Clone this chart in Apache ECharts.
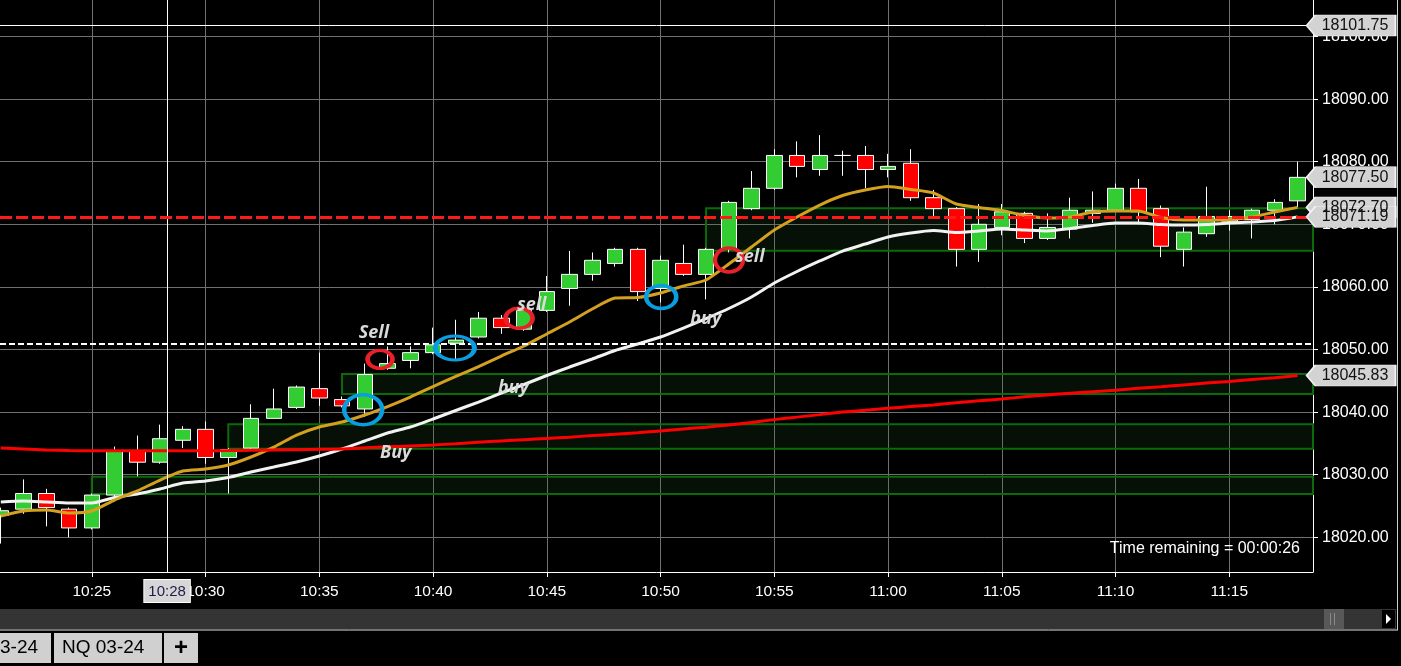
<!DOCTYPE html>
<html>
<head>
<meta charset="utf-8">
<script src="https://cdn.jsdelivr.net/npm/echarts@6/dist/echarts.min.js"></script>
<style>
html, body { margin: 0; padding: 0; background: #000; }
#chart { width: 1401px; height: 666px; }
</style>
</head>
<body>
<div id="chart"></div>
<script>
// one-minute bars, NQ 03-24
var times = ['10:21','10:22','10:23','10:24','10:25','10:26','10:27','10:28','10:29','10:30',
    '10:31','10:32','10:33','10:34','10:35','10:36','10:37','10:38','10:39','10:40',
    '10:41','10:42','10:43','10:44','10:45','10:46','10:47','10:48','10:49','10:50',
    '10:51','10:52','10:53','10:54','10:55','10:56','10:57','10:58','10:59','11:00',
    '11:01','11:02','11:03','11:04','11:05','11:06','11:07','11:08','11:09','11:10',
    '11:11','11:12','11:13','11:14','11:15','11:16','11:17','11:18']
var opens = [18023.5, 18024.5, 18027, 18024.5, 18021.5, 18026.75, 18033.75, 18032, 18035.5, 18037.25,
    18032.75, 18034.25, 18039, 18040.75, 18043.75, 18042, 18040.5, 18047, 18048.25, 18049.5,
    18051, 18052, 18055, 18053.25, 18056.25, 18059.75, 18062, 18063.75, 18066, 18059.75,
    18063.75, 18062, 18066, 18072.5, 18075.75, 18081, 18078.75, 18081, 18081, 18078.75,
    18079.75, 18074.25, 18072.5, 18066, 18069.5, 18071.75, 18067.75, 18069.25, 18071.75, 18072.25,
    18075.75, 18072.5, 18066, 18068.5, 18070.5, 18070.75, 18072.25, 18073.75]
var closes = [18024.25, 18027, 18024.75, 18021.5, 18026.75, 18033.75, 18032, 18035.75, 18037.25, 18032.75,
    18034, 18039, 18040.5, 18044, 18042.25, 18041, 18046, 18047.75, 18049.5, 18050.75,
    18051.5, 18055, 18053.5, 18056.25, 18059.25, 18062, 18064.25, 18066, 18059.25, 18064.25,
    18062, 18066, 18073.5, 18075.75, 18081, 18079.25, 18081, 18081, 18078.75, 18079.25,
    18074.25, 18072.5, 18066, 18070, 18072, 18067.75, 18069.5, 18072.25, 18072.25, 18075.75,
    18072, 18066.5, 18068.75, 18071.25, 18071.25, 18072.25, 18073.5, 18077.5]
var lows = [18019, 18023.75, 18021.75, 18020, 18021.25, 18026.5, 18029.75, 18031.75, 18034.25, 18031.75,
    18027, 18034, 18039, 18040.5, 18041, 18040.75, 18039.25, 18046.75, 18047, 18049.25,
    18048.25, 18051.75, 18052.5, 18053, 18056, 18057, 18061, 18063.25, 18057.75, 18057.5,
    18061.75, 18058, 18065.5, 18072.25, 18075.5, 18077.5, 18077.75, 18077.75, 18075.75, 18077.5,
    18073.75, 18071.25, 18063.25, 18064, 18068.25, 18067, 18067.5, 18067.75, 18070.25, 18072,
    18070, 18064.75, 18063.25, 18068, 18069, 18067.75, 18070, 18072.75]
var highs = [18024.75, 18029.25, 18027.75, 18024.75, 18027, 18034.5, 18036.25, 18038, 18037.75, 18038.5,
    18034.25, 18041.25, 18043.75, 18044.25, 18049.5, 18042.5, 18047.75, 18050.5, 18050.5, 18053.5,
    18054.75, 18056, 18055.5, 18057, 18061.75, 18065.75, 18065.5, 18066.25, 18066.25, 18065,
    18066.75, 18066.25, 18073.75, 18078.5, 18082, 18083.25, 18084.25, 18081.75, 18082.5, 18081.25,
    18082, 18075.5, 18072.75, 18073.25, 18073.25, 18072, 18071.75, 18074.25, 18075.25, 18076.5,
    18077.25, 18073, 18069.5, 18076, 18072.25, 18072.5, 18074, 18080]

// moving averages
var maFast = [18023.40, 18024.20, 18024.36, 18023.88, 18024.20, 18025.96, 18027.40, 18029.15, 18030.59, 18030.91,
    18031.55, 18032.83, 18034.42, 18036.34, 18037.62, 18038.42, 18039.54, 18040.89, 18042.41, 18044.09,
    18045.69, 18047.28, 18048.96, 18050.56, 18052.48, 18054.39, 18056.47, 18058.23, 18058.31, 18059.03,
    18060.14, 18061.10, 18063.66, 18066.37, 18069.09, 18071.17, 18073.08, 18074.60, 18075.48, 18076.04,
    18075.56, 18075.00, 18073.24, 18072.68, 18072.20, 18071.41, 18071.01, 18071.17, 18071.96, 18072.12,
    18072.12, 18071.09, 18070.69, 18070.69, 18070.77, 18071.17, 18071.96, 18072.70]
var maSlow = [18025.64, 18025.80, 18025.64, 18025.48, 18025.48, 18026.36, 18026.92, 18027.72, 18028.67, 18028.99,
    18029.55, 18030.43, 18031.23, 18032.03, 18032.99, 18034.11, 18035.38, 18036.66, 18037.62, 18038.90,
    18040.26, 18041.61, 18043.05, 18044.41, 18045.85, 18047.20, 18048.48, 18049.84, 18050.88, 18052.00,
    18053.43, 18054.95, 18056.55, 18058.39, 18060.62, 18062.46, 18064.14, 18065.73, 18066.85, 18067.97,
    18068.61, 18069.01, 18068.69, 18068.93, 18069.25, 18069.09, 18068.93, 18069.33, 18069.81, 18070.21,
    18070.21, 18069.97, 18069.89, 18069.97, 18070.21, 18070.37, 18070.61, 18071.19]
var maLong = [18034.25, 18034.10, 18033.95, 18033.85, 18033.83, 18033.83, 18033.83, 18033.83, 18033.83, 18033.83,
    18033.85, 18033.90, 18033.95, 18034.00, 18034.05, 18034.10, 18034.30, 18034.45, 18034.60, 18034.75,
    18034.95, 18035.20, 18035.40, 18035.60, 18035.80, 18036.00, 18036.25, 18036.45, 18036.70, 18037.00,
    18037.30, 18037.60, 18037.95, 18038.35, 18038.80, 18039.20, 18039.60, 18040.00, 18040.30, 18040.60,
    18040.90, 18041.15, 18041.50, 18041.80, 18042.10, 18042.45, 18042.75, 18043.00, 18043.25, 18043.50,
    18043.80, 18044.05, 18044.35, 18044.65, 18044.90, 18045.20, 18045.50, 18045.83]

// demand zones
var zoneStarts = ['10:25', '10:31', '10:36', '10:52']
var zoneLows = [18026.92, 18034.15, 18042.90, 18065.78]
var zoneHighs = [18029.68, 18038.05, 18046.09, 18072.56]

// levels
var crossTime = 628.31
var crossPrice = 18101.75
var whiteDashPrice = 18050.88
var redDashPrice = 18071.19

// hand drawn notes
var noteTexts = ['Sell', 'sell', 'sell', 'buy', 'buy', 'Buy']
var noteTimes = [637.40, 644.34, 653.93, 651.99, 643.53, 638.36]
var notePrices = [18052.59, 18057.11, 18064.82, 18054.82, 18043.90, 18033.42]
var ringTimes = [637.67, 643.78, 653.01, 636.93, 640.96, 650.03]
var ringPrices = [18048.43, 18054.98, 18064.30, 18040.38, 18050.24, 18058.39]
var ringKinds = ['sell', 'sell', 'sell', 'buy', 'buy', 'buy']

var xMin = 620.965, xMax = 678.68
var yMin = 18014.46, yMax = 18105.83
var ringSizes = [[25, 18], [27, 20], [28, 24], [38, 30], [39, 24], [30, 23]]
var FONT = '"Liberation Sans", Arial, sans-serif'

function toMin(t) {
    var p = t.split(':')
    return (+p[0]) * 60 + (+p[1])
}
function toTime(v) {
    var m = Math.round(v)
    var mm = m % 60
    return Math.floor(m / 60) + ':' + (mm < 10 ? '0' : '') + mm
}

var candleData = times.map(function (t, i) {
    return [toMin(t), opens[i], closes[i], lows[i], highs[i]]
})
function lineData(arr) {
    return times.map(function (t, i) { return [toMin(t), arr[i]] })
}

var tagPath = 'path://M0,10L9,0L89,0L89,20L9,20Z'
function tag(value) {
    return {
        coord: [xMax, value],
        value: value,
        symbol: tagPath,
        symbolSize: [89, 21],
        symbolKeepAspect: false,
        symbolOffset: [38, 0],
        itemStyle: { color: '#d3d3d3', borderColor: '#f2f2f2', borderWidth: 1 },
        label: {
            show: true, position: 'inside', offset: [4, 0],
            formatter: value.toFixed(2),
            color: '#111', fontSize: 16, fontFamily: FONT
        }
    }
}

var markPoints = []
noteTexts.forEach(function (txt, i) {
    markPoints.push({
        coord: [noteTimes[i], notePrices[i]],
        symbol: 'rect', symbolSize: 1,
        itemStyle: { color: 'rgba(0,0,0,0)' },
        label: {
            show: true, position: 'inside', formatter: txt,
            color: '#dadada', fontSize: 18, fontStyle: 'italic', fontWeight: 'bold',
            fontFamily: '"Open Sans", "Noto Sans", sans-serif'
        }
    })
})
ringTimes.forEach(function (t, i) {
    markPoints.push({
        coord: [t, ringPrices[i]],
        symbol: 'circle', symbolSize: ringSizes[i],
        itemStyle: {
            color: 'rgba(0,0,0,0)',
            borderColor: ringKinds[i] == 'sell' ? '#e8202a' : '#0a9ee0',
            borderWidth: 4
        },
        label: { show: false }
    })
})
// price tags on the right scale
markPoints.push(tag(crossPrice))
markPoints.push(tag(closes[closes.length - 1]))
markPoints.push(tag(maFast[maFast.length - 1]))
markPoints.push(tag(maSlow[maSlow.length - 1]))
markPoints.push(tag(maLong[maLong.length - 1]))

var chart = echarts.init(document.getElementById('chart'))
chart.setOption({
    backgroundColor: '#000',
    animation: false,
    title: {
        text: 'Time remaining = 00:00:26',
        right: 101, top: 541, padding: 0,
        textStyle: { color: '#fff', fontSize: 16, fontWeight: 'normal', fontFamily: FONT }
    },
    grid: { left: 0, right: 88, top: 0, bottom: 94 },
    xAxis: {
        type: 'value',
        min: xMin, max: xMax,
        minInterval: 5, maxInterval: 5,
        axisLine: { show: true, onZero: false, lineStyle: { color: '#fff', width: 1 } },
        axisTick: { show: true, length: 5, lineStyle: { color: '#fff' } },
        axisLabel: {
            color: '#fff', fontSize: 15.5, fontFamily: FONT, margin: 12,
            showMinLabel: false, showMaxLabel: false,
            formatter: toTime
        },
        splitLine: { show: true, showMinLine: false, showMaxLine: false, lineStyle: { color: '#707070', width: 1 } }
    },
    yAxis: {
        type: 'value',
        position: 'right',
        min: yMin, max: yMax,
        minInterval: 10, maxInterval: 10,
        axisLine: { show: true, lineStyle: { color: '#fff', width: 1 } },
        axisTick: { show: true, length: 5, lineStyle: { color: '#fff' } },
        axisLabel: {
            color: '#fff', fontSize: 16, fontFamily: FONT, margin: 9,
            showMinLabel: false, showMaxLabel: false,
            formatter: function (v) { return v.toFixed(2) }
        },
        splitLine: { show: true, showMinLine: false, showMaxLine: false, lineStyle: { color: '#707070', width: 1 } }
    },
    series: [
        {
            name: 'NQ 03-24',
            type: 'candlestick',
            data: candleData,
            encode: { x: 0, y: [1, 2, 3, 4] },
            barWidth: 16,
            itemStyle: {
                color: '#33cc33', color0: '#ff0000',
                borderColor: '#ffffff', borderColor0: '#ffffff', borderColorDoji: '#ffffff',
                borderWidth: 1
            },
            markArea: {
                silent: true,
                itemStyle: { color: 'rgba(40,110,40,0.15)', borderColor: '#0b6b0b', borderWidth: 2 },
                label: { show: false },
                data: zoneStarts.map(function (t, i) {
                    return [{ xAxis: toMin(t), yAxis: zoneLows[i] }, { xAxis: xMax, yAxis: zoneHighs[i] }]
                })
            }
        },
        {
            name: 'MA slow', type: 'line', data: lineData(maSlow),
            showSymbol: false, smooth: 0.2,
            lineStyle: { color: '#f2f2f2', width: 3 }
        },
        {
            name: 'MA fast', type: 'line', data: lineData(maFast),
            showSymbol: false, smooth: 0.2,
            lineStyle: { color: '#d4a020', width: 3 }
        },
        {
            name: 'MA long', type: 'line', data: lineData(maLong),
            showSymbol: false, smooth: 0.2, clip: false,
            lineStyle: { color: '#ff0000', width: 3 },
            markLine: {
                silent: true,
                symbol: ['none', 'none'],
                data: [
                    {
                        xAxis: crossTime,
                        lineStyle: { color: '#fff', width: 1, type: 'solid' },
                        label: {
                            show: true, position: 'start', distance: 8,
                            formatter: toTime(crossTime),
                            color: '#1c1c4a', fontSize: 15, fontFamily: FONT,
                            backgroundColor: '#d6d6d6', borderColor: '#fff', borderWidth: 1,
                            padding: [4, 4, 3, 4]
                        }
                    },
                    { yAxis: crossPrice, lineStyle: { color: '#fff', width: 1, type: 'solid' }, label: { show: false } },
                    { yAxis: whiteDashPrice, lineStyle: { color: '#fff', width: 2, type: [6, 3] }, label: { show: false } },
                    { yAxis: redDashPrice, lineStyle: { color: '#ff1a1a', width: 3, type: [12, 4] }, label: { show: false } }
                ]
            },
            markPoint: {
                silent: true,
                data: markPoints
            }
        }
    ],
    graphic: [
        // scroll bar
        { type: 'rect', silent: true, shape: { x: 0, y: 609, width: 1396, height: 20 }, style: { fill: '#343434' } },
        { type: 'line', silent: true, shape: { x1: 0, y1: 630, x2: 1398, y2: 630 }, style: { stroke: '#e6e6e6', lineWidth: 1 } },
        { type: 'line', silent: true, shape: { x1: 1397.5, y1: 0, x2: 1397.5, y2: 630 }, style: { stroke: '#cfcfcf', lineWidth: 1 } },
        { type: 'rect', silent: true, shape: { x: 1324, y: 609, width: 20, height: 20 }, style: { fill: '#585858' } },
        { type: 'line', silent: true, shape: { x1: 1330.5, y1: 613, x2: 1330.5, y2: 625 }, style: { stroke: '#8a8a8a' } },
        { type: 'line', silent: true, shape: { x1: 1334.5, y1: 613, x2: 1334.5, y2: 625 }, style: { stroke: '#8a8a8a' } },
        { type: 'rect', silent: true, shape: { x: 1382, y: 610, width: 13, height: 18 }, style: { fill: '#000' } },
        { type: 'polygon', silent: true, shape: { points: [[1386, 614], [1386, 624], [1391, 619]] }, style: { fill: '#fff' } },
        // instrument tabs
        { type: 'rect', silent: true, shape: { x: 0, y: 633, width: 51, height: 30 }, style: { fill: '#d0d0d0' } },
        { type: 'text', silent: true, x: 0, y: 648, style: { text: '3-24', fill: '#000', font: '19px "Liberation Sans", Arial', verticalAlign: 'middle' } },
        { type: 'rect', silent: true, shape: { x: 54, y: 633, width: 108, height: 30 }, style: { fill: '#d0d0d0' } },
        { type: 'text', silent: true, x: 62, y: 648, style: { text: 'NQ 03-24', fill: '#000', font: '19px "Liberation Sans", Arial', verticalAlign: 'middle' } },
        { type: 'rect', silent: true, shape: { x: 164, y: 633, width: 34, height: 30 }, style: { fill: '#d0d0d0' } },
        { type: 'text', silent: true, x: 181, y: 648, style: { text: '+', fill: '#000', font: 'bold 24px "Liberation Sans", Arial', align: 'center', verticalAlign: 'middle' } }
    ]
})
</script>
</body>
</html>
